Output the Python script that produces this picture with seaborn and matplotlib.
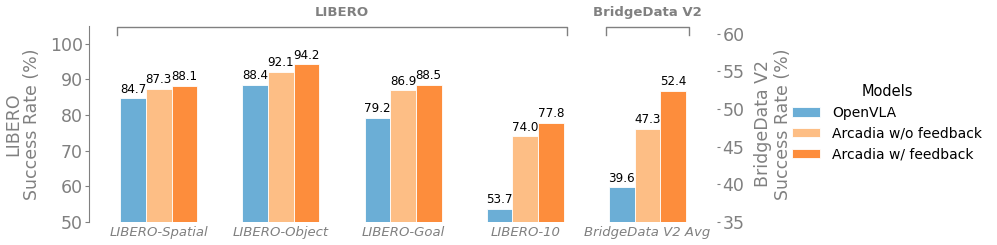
import pandas as pd
import matplotlib.pyplot as plt
import matplotlib.transforms as mtransforms
import seaborn as sns

# Chart data.
categories = ["LIBERO-Spatial", "LIBERO-Object", "LIBERO-Goal", "LIBERO-10", "BridgeData V2 Avg"]
models = ["OpenVLA", "Arcadia w/o feedback", "Arcadia w/ feedback"]
openvla = [84.7, 88.4, 79.2, 53.7, 39.6]
arcadia_no_fb = [87.3, 92.1, 86.9, 74.0, 47.3]
arcadia_fb = [88.1, 94.2, 88.5, 77.8, 52.4]
libero_tasks = categories[:4]
bridge_tasks = categories[4:]

colors = ["#6baed6", "#fdbe85", "#fd8d3c"]
GRAY = "#808080"

# Long-format table for seaborn.
rows = []
for model, values in zip(models, [openvla, arcadia_no_fb, arcadia_fb]):
    for task, value in zip(categories, values):
        rows.append({"Task": task, "Model": model, "Rate": value})
df = pd.DataFrame(rows)
libero_df = df[df["Task"].isin(libero_tasks)]
bridge_df = df[df["Task"].isin(bridge_tasks)]

fig = plt.figure(figsize=(9.97, 2.45), dpi=100)
ax = fig.add_axes([0.0893, 0.094, 0.6299, 0.800])
ax2 = ax.twinx()

# LIBERO bars on the left axis.
sns.barplot(
    data=libero_df, x="Task", y="Rate", hue="Model",
    order=categories, hue_order=models, palette=colors,
    width=0.63, saturation=1, edgecolor="white", linewidth=0.6, ax=ax
)

# BridgeData bars on the right axis.
sns.barplot(
    data=bridge_df, x="Task", y="Rate", hue="Model",
    order=categories, hue_order=models, palette=colors,
    width=0.63, saturation=1, edgecolor="white", linewidth=0.6, ax=ax2,
    legend=False
)

# Value labels above every bar.
for axis in [ax, ax2]:
    for container in axis.containers:
        axis.bar_label(container, fmt="%.1f", fontsize=8.6, padding=2)

ax.set_ylim(50, 105)
ax2.set_ylim(35, 61)
ax.set_yticks([50, 60, 70, 80, 90, 100])
ax2.set_yticks([35, 40, 45, 50, 55, 60])
ax.set_xlim(-0.57, 4.57)

ax.set_xlabel("")
ax.set_ylabel("LIBERO\nSuccess Rate (%)", fontsize=12.5, color=GRAY,
              labelpad=6, linespacing=1.08)
ax2.set_ylabel("BridgeData V2\nSuccess Rate (%)", fontsize=12.5, color=GRAY,
               labelpad=7, linespacing=1.08)

ax.tick_params(axis="x", length=0, labelsize=9.5, labelcolor=GRAY, pad=3)
for label in ax.get_xticklabels():
    label.set_fontstyle("italic")
ax.tick_params(axis="y", colors=GRAY, labelsize=12.5, length=3, pad=1.5)
ax2.tick_params(axis="y", colors=GRAY, labelsize=12.5, length=2.5, pad=1.5)

for side in ["top", "right", "bottom"]:
    ax.spines[side].set_visible(False)
for side in ["top", "right", "bottom", "left"]:
    ax2.spines[side].set_visible(False)
ax.spines["left"].set_color(GRAY)

# Group brackets above the bars.
trans = mtransforms.blended_transform_factory(ax.transData, ax.transAxes)
brackets = [("LIBERO", -0.34, 3.34), ("BridgeData V2", 3.66, 4.34)]
for name, x0, x1 in brackets:
    ax.plot([x0, x0, x1, x1], [0.955, 0.995, 0.995, 0.955], color=GRAY,
            linewidth=1, transform=trans, clip_on=False)
    ax.text((x0 + x1) / 2, 1.07, name, transform=trans, ha="center", va="center",
            fontsize=9.5, fontweight="bold", color=GRAY)

# Legend to the right of the chart.
handles, labels = ax.get_legend_handles_labels()
ax.legend(handles, labels, title="Models", frameon=False, fontsize=10,
          title_fontsize=10.5, loc="center left",
          bbox_to_anchor=(0.789, 0.5), bbox_transform=fig.transFigure,
          borderaxespad=0, handletextpad=0.85)

fig.savefig("out.png", dpi=100)
plt.close(fig)
